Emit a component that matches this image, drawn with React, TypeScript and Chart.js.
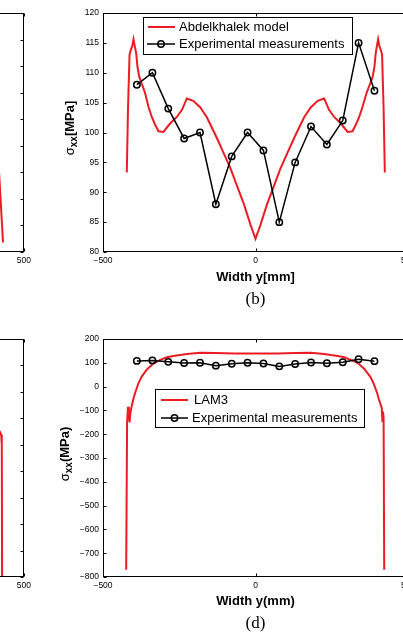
import React, { useEffect, useRef } from "react";
import { Chart, registerables } from "chart.js";

Chart.register(...registerables);

// ---------------- data ----------------
const widthTicks = [-500, 0, 500];

const expWidth = [-389, -338, -286, -234, -182, -130, -78, -26, 26, 78, 130, 182, 234, 286, 338, 390];
const expStressB = [108, 110, 104, 99, 100, 88, 96, 100, 97, 85, 95, 101, 98, 102, 115, 107];
const expStressD = [108, 110, 104, 99, 100, 88, 96, 100, 97, 85, 95, 101, 98, 102, 115, 107];

const abdWidth = [
  -422, -418, -413, -409, -404, -400, -396, -391, -387, -381, -373, -362, -351, -340, -329, -318,
  -302, -280, -258, -241, -225, -204, -181, -160, -140, -126, -104, -82, -60, -38, -16, 0,
  16, 38, 60, 82, 104, 126, 140, 160, 181, 204, 225, 241, 258, 280, 302, 318,
  329, 340, 351, 364, 376, 384, 390, 394, 398, 402, 406, 411, 415, 420, 424,
];
const abdStress = [
  93.3, 104, 113, 113.8, 114.5, 115.6, 114.5, 113.2, 111, 109.3, 108.2, 106.6, 104.3, 102.6, 101.3, 100.2,
  100.1, 101.5, 102.6, 103.8, 105.7, 105.3, 104.2, 102.6, 100.5, 99, 96.5, 94, 91, 88, 84.5, 82.2,
  84.5, 88, 91, 94, 96.5, 99, 100.5, 102.6, 104.2, 105.3, 105.7, 103.8, 102.6, 101.5, 100.1, 100.2,
  101.3, 102.6, 104.3, 106.6, 108.2, 109.3, 111, 113.2, 114.5, 115.6, 114.5, 113.8, 113, 104, 93.3,
];

const lamWidth = [
  -424, -421, -418, -415, -413, -410, -405, -400, -395, -384, -373, -356, -335, -312, -291, -269,
  -225, -181, -130, -72, 0, 72, 130, 181, 225, 269, 291, 312, 335, 356, 376, 387,
  399, 405, 410, 414, 416, 418, 420, 422,
];
const lamStress = [
  -770, -150, -85, -120, -150, -110, -77, -50, -28, 14, 42, 72, 97, 112, 123, 129,
  137, 142, 141, 139, 139, 139, 141, 142, 137, 129, 123, 112, 100, 75, 42, 14,
  -28, -55, -75, -90, -145, -105, -130, -770,
];

const panelAWidth = [400, 418, 431];
const panelAStress = [110, 95, 81.8];
const panelCWidth = [405, 420, 425, 427, 428];
const panelCStress = [-220, -250, -262, -300, -800];

const labelsB = ["Abdelkhalek model", "Experimental measurements"];
const labelsD = ["LAM3", "Experimental measurements"];

// ---------------- styling helpers ----------------
const SANS = '"Liberation Sans", Arial, Helvetica, sans-serif';
const SERIF = '"Liberation Serif", "Times New Roman", serif';
const RED = "#ec1c24";

const pts = (xs: number[], ys: number[]) => xs.map((x, i) => ({ x, y: ys[i] }));
const fmt = (v: any) => String(v).replace("-", "\u2212");

const matlabPlugin: any = {
  id: "matlab",
  afterDraw(chart: any, _args: any, opts: any) {
    const ctx = chart.ctx;
    const { left, right, top, bottom } = chart.chartArea;
    const xs = chart.scales.x;
    const ys = chart.scales.y;
    const L = 3;
    ctx.save();
    ctx.strokeStyle = "#000";
    ctx.lineWidth = 1;
    const l = Math.round(left) + 0.5, r = Math.round(right) - 0.5;
    const t = Math.round(top) + 0.5, b = Math.round(bottom) - 0.5;
    ctx.strokeRect(l, t, r - l, b - t);
    ctx.beginPath();
    xs.ticks.forEach((tk: any) => {
      const px = Math.round(xs.getPixelForValue(tk.value)) + 0.5;
      ctx.moveTo(px, b); ctx.lineTo(px, b - L);
      ctx.moveTo(px, t); ctx.lineTo(px, t + L);
    });
    ys.ticks.forEach((tk: any) => {
      const py = Math.round(ys.getPixelForValue(tk.value)) + 0.5;
      ctx.moveTo(l, py); ctx.lineTo(l + L, py);
      ctx.moveTo(r, py); ctx.lineTo(r - L, py);
    });
    ctx.stroke();

    // legend
    if (opts.legend) {
      const lg = opts.legend;
      ctx.fillStyle = "#fff";
      ctx.fillRect(lg.x, lg.y, lg.w, lg.h);
      ctx.strokeStyle = "#000";
      ctx.lineWidth = 1;
      ctx.strokeRect(lg.x + 0.5, lg.y + 0.5, lg.w, lg.h);
      lg.rows.forEach((row: any, i: number) => {
        const ds = chart.data.datasets[i];
        ctx.strokeStyle = ds.borderColor;
        ctx.lineWidth = ds.borderWidth;
        ctx.beginPath();
        ctx.moveTo(row.x1, row.y);
        ctx.lineTo(row.x2, row.y);
        ctx.stroke();
        if (ds.pointRadius > 0) {
          ctx.beginPath();
          ctx.lineWidth = ds.pointBorderWidth;
          ctx.arc((row.x1 + row.x2) / 2, row.y, ds.pointRadius, 0, Math.PI * 2);
          ctx.stroke();
        }
        ctx.fillStyle = "#000";
        ctx.font = `13px ${SANS}`;
        ctx.textAlign = "left";
        ctx.textBaseline = "middle";
        ctx.fillText(ds.label, row.tx, row.y);
      });
    }

    // x label
    if (opts.xLabel) {
      ctx.fillStyle = "#000";
      ctx.font = `bold 13px ${SANS}`;
      ctx.textAlign = "center";
      ctx.textBaseline = "middle";
      ctx.fillText(opts.xLabel.text, xs.getPixelForValue(0), opts.xLabel.y);
    }
    // y label with subscript
    if (opts.yLabel) {
      const yl = opts.yLabel;
      ctx.save();
      ctx.translate(yl.x, yl.y);
      ctx.rotate(-Math.PI / 2);
      ctx.textAlign = "left";
      ctx.textBaseline = "middle";
      ctx.fillStyle = "#000";
      const fMain = `13px ${SANS}`;
      const fSub = `bold 10px ${SANS}`;
      const fUnit = `bold 13px ${SANS}`;
      ctx.font = fMain; const w1 = ctx.measureText(yl.sym).width;
      ctx.font = fSub; const w2 = ctx.measureText(yl.sub).width;
      ctx.font = fUnit; const w3 = ctx.measureText(yl.unit).width;
      let x = -(w1 + w2 + w3) / 2;
      ctx.font = fMain; ctx.fillText(yl.sym, x, 0); x += w1;
      ctx.font = fSub; ctx.fillText(yl.sub, x, 4); x += w2;
      ctx.font = fUnit; ctx.fillText(yl.unit, x, 0);
      ctx.restore();
    }
    // caption
    if (opts.caption) {
      ctx.fillStyle = "#000";
      ctx.font = `17px ${SERIF}`;
      ctx.textAlign = "center";
      ctx.textBaseline = "middle";
      ctx.fillText(opts.caption.text, xs.getPixelForValue(0), opts.caption.y);
    }
    ctx.restore();
  },
};

function makeConfig(p: any) {
  return {
    type: "line",
    data: { datasets: p.datasets },
    options: {
      responsive: false,
      animation: false,
      events: [],
      devicePixelRatio: 1,
      layout: { padding: p.padding },
      plugins: {
        legend: { display: false },
        tooltip: { enabled: false },
        matlab: p.matlab,
      },
      scales: {
        x: {
          type: "linear",
          min: -500,
          max: 500,
          afterBuildTicks: (s: any) => { s.ticks = widthTicks.map((v) => ({ value: v })); },
          grid: { display: false, drawTicks: false },
          border: { display: false },
          ticks: { color: "#000", font: { family: SANS, size: 8.5 }, padding: 4, autoSkip: false, maxRotation: 0, callback: fmt },
          afterFit: (s: any) => { s.height = p.xHeight; },
        },
        y: {
          type: "linear",
          min: p.yMin,
          max: p.yMax,
          grid: { display: false, drawTicks: false },
          border: { display: false },
          ticks: { display: p.yTicks, color: "#000", font: { family: SANS, size: 8.5 }, padding: 4, stepSize: p.yStep, autoSkip: false, callback: fmt },
          afterFit: (s: any) => { s.width = p.yWidth; },
        },
      },
    },
    plugins: [matlabPlugin],
  };
}

function ChartBox({ cfg, style, w, h }: any) {
  const ref = useRef<HTMLCanvasElement | null>(null);
  useEffect(() => {
    if (!ref.current) return;
    const c = new Chart(ref.current, cfg as any);
    return () => c.destroy();
  }, []);
  return <canvas ref={ref} width={w} height={h} style={{ position: "absolute", width: w, height: h, ...style }} />;
}

const redLine = (label: string, data: any) => ({
  label, data, borderColor: RED, borderWidth: 2, pointRadius: 0, tension: 0, order: 2,
});
const blackLine = (label: string, data: any) => ({
  label, data, borderColor: "#000", borderWidth: 1.5, pointRadius: 3.2, pointBorderWidth: 1.5,
  pointBorderColor: "#000", pointBackgroundColor: "rgba(255,255,255,0)", tension: 0, order: 1,
});

export default function App() {
  const cfgB = makeConfig({
    datasets: [redLine(labelsB[0], pts(abdWidth, abdStress)), blackLine(labelsB[1], pts(expWidth, expStressB))],
    padding: { left: 0, top: 13, right: 12, bottom: 0 },
    xHeight: 68, yWidth: 103, yMin: 80, yMax: 120, yStep: 5, yTicks: true,
    matlab: {
      legend: { x: 143, y: 17, w: 209, h: 37, rows: [{ y: 27, x1: 148, x2: 175, tx: 179 }, { y: 44, x1: 147, x2: 175, tx: 179 }] },
      xLabel: { text: "Width y[mm]", y: 277 },
      yLabel: { x: 70, y: 128, sym: "σ", sub: "xx", unit: "[MPa]" },
      caption: { text: "(b)", y: 300 },
    },
  });
  const cfgD = makeConfig({
    datasets: [redLine(labelsD[0], pts(lamWidth, lamStress)), blackLine(labelsD[1], pts(expWidth, expStressD))],
    padding: { left: 0, top: 19, right: 12, bottom: 0 },
    xHeight: 63, yWidth: 103, yMin: -800, yMax: 200, yStep: 100, yTicks: true,
    matlab: {
      legend: { x: 155, y: 69, w: 209, h: 38, rows: [{ y: 80, x1: 161, x2: 188, tx: 194 }, { y: 98, x1: 161, x2: 188, tx: 192 }] },
      xLabel: { text: "Width y(mm)", y: 281 },
      yLabel: { x: 65, y: 134, sym: "σ", sub: "xx", unit: "(MPa)" },
      caption: { text: "(d)", y: 304 },
    },
  });
  const cfgA = makeConfig({
    datasets: [redLine("a", pts(panelAWidth, panelAStress))],
    padding: { left: 0, top: 13, right: 10, bottom: 0 },
    xHeight: 68, yWidth: 21, yMin: 80, yMax: 125, yStep: 5, yTicks: false,
    matlab: {},
  });
  const cfgC = makeConfig({
    datasets: [redLine("c", pts(panelCWidth, panelCStress))],
    padding: { left: 0, top: 19, right: 10, bottom: 0 },
    xHeight: 63, yWidth: 21, yMin: -800, yMax: 100, yStep: 100, yTicks: false,
    matlab: {},
  });

  return (
    <div style={{ position: "fixed", left: 0, top: 0, width: 403, height: 639, overflow: "hidden", background: "#fff" }}>
      <ChartBox cfg={cfgA} w={335} h={320} style={{ left: -300, top: 0 }} />
      <ChartBox cfg={cfgC} w={335} h={320} style={{ left: -300, top: 320 }} />
      <ChartBox cfg={cfgB} w={420} h={320} style={{ left: 0, top: 0 }} />
      <ChartBox cfg={cfgD} w={420} h={320} style={{ left: 0, top: 320 }} />
    </div>
  );
}
